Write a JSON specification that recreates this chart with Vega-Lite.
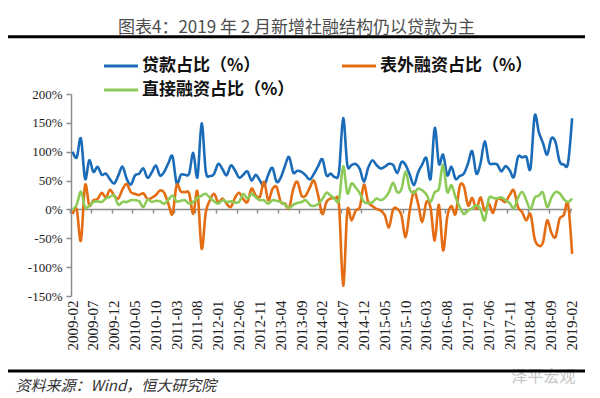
{
  "$schema": "https://vega.github.io/schema/vega-lite/v6.json",
  "width": 577,
  "height": 202,
  "autosize": {"type": "none"},
  "padding": {"left": 8, "top": 94, "right": 15, "bottom": 102},
  "background": "#ffffff",
  "config": {"view": {"stroke": null}, "font": "Noto Sans CJK SC", "axis": {"grid": false, "labelOverlap": false, "labelFlush": false, "labelBound": false}},
  "title": {"text": "图表4：2019 年 2 月新增社融结构仍以贷款为主", "anchor": "middle", "fontSize": 17, "font": "Noto Sans CJK SC", "fontWeight": "normal", "color": "#4d4d4d", "offset": -2},
  "data": {"values": [
    {"m":"2009-02","贷款占比（%）":100,"表外融资占比（%）":-8,"直接融资占比（%）":0},
    {"m":"2009-03","贷款占比（%）":90,"表外融资占比（%）":0,"直接融资占比（%）":8},
    {"m":"2009-04","贷款占比（%）":123,"表外融资占比（%）":-54,"直接融资占比（%）":31},
    {"m":"2009-05","贷款占比（%）":53,"表外融资占比（%）":42,"直接融资占比（%）":4},
    {"m":"2009-06","贷款占比（%）":85,"表外融资占比（%）":7,"直接融资占比（%）":6},
    {"m":"2009-07","贷款占比（%）":65,"表外融资占比（%）":16,"直接融资占比（%）":13},
    {"m":"2009-08","贷款占比（%）":74,"表外融资占比（%）":18,"直接融资占比（%）":14},
    {"m":"2009-09","贷款占比（%）":60,"表外融资占比（%）":29,"直接融资占比（%）":13},
    {"m":"2009-10","贷款占比（%）":62,"表外融资占比（%）":21,"直接融资占比（%）":19},
    {"m":"2009-11","贷款占比（%）":52,"表外融资占比（%）":34,"直接融资占比（%）":22},
    {"m":"2009-12","贷款占比（%）":45,"表外融资占比（%）":24,"直接融资占比（%）":24},
    {"m":"2010-01","贷款占比（%）":59,"表外融资占比（%）":19,"直接融资占比（%）":8},
    {"m":"2010-02","贷款占比（%）":74,"表外融资占比（%）":35,"直接融资占比（%）":13},
    {"m":"2010-03","贷款占比（%）":53,"表外融资占比（%）":44,"直接融资占比（%）":13},
    {"m":"2010-04","贷款占比（%）":43,"表外融资占比（%）":30,"直接融资占比（%）":16},
    {"m":"2010-05","贷款占比（%）":59,"表外融资占比（%）":27,"直接融资占比（%）":16},
    {"m":"2010-06","贷款占比（%）":62,"表外融资占比（%）":25,"直接融资占比（%）":14},
    {"m":"2010-07","贷款占比（%）":71,"表外融资占比（%）":28,"直接融资占比（%）":4},
    {"m":"2010-08","贷款占比（%）":55,"表外融资占比（%）":18,"直接融资占比（%）":17},
    {"m":"2010-09","贷款占比（%）":64,"表外融资占比（%）":20,"直接融资占比（%）":13},
    {"m":"2010-10","贷款占比（%）":76,"表外融资占比（%）":25,"直接融资占比（%）":15},
    {"m":"2010-11","贷款占比（%）":59,"表外融资占比（%）":33,"直接融资占比（%）":14},
    {"m":"2010-12","贷款占比（%）":65,"表外融资占比（%）":29,"直接融资占比（%）":10},
    {"m":"2011-01","贷款占比（%）":80,"表外融资占比（%）":10,"直接融资占比（%）":17},
    {"m":"2011-02","贷款占比（%）":92,"表外融资占比（%）":-8,"直接融资占比（%）":24},
    {"m":"2011-03","贷款占比（%）":45,"表外融资占比（%）":42,"直接融资占比（%）":14},
    {"m":"2011-04","贷款占比（%）":60,"表外融资占比（%）":31,"直接融资占比（%）":15},
    {"m":"2011-05","贷款占比（%）":60,"表外融资占比（%）":30,"直接融资占比（%）":16},
    {"m":"2011-06","贷款占比（%）":62,"表外融资占比（%）":28,"直接融资占比（%）":10},
    {"m":"2011-07","贷款占比（%）":98,"表外融资占比（%）":-8,"直接融资占比（%）":13},
    {"m":"2011-08","贷款占比（%）":56,"表外融资占比（%）":31,"直接融资占比（%）":20},
    {"m":"2011-09","贷款占比（%）":149,"表外融资占比（%）":-68,"直接融资占比（%）":24},
    {"m":"2011-10","贷款占比（%）":66,"表外融资占比（%）":-5,"直接融资占比（%）":27},
    {"m":"2011-11","贷款占比（%）":58,"表外融资占比（%）":16,"直接融资占比（%）":20},
    {"m":"2011-12","贷款占比（%）":62,"表外融资占比（%）":27,"直接融资占比（%）":14},
    {"m":"2012-01","贷款占比（%）":79,"表外融资占比（%）":12,"直接融资占比（%）":10},
    {"m":"2012-02","贷款占比（%）":70,"表外融资占比（%）":19,"直接融资占比（%）":16},
    {"m":"2012-03","贷款占比（%）":59,"表外融资占比（%）":10,"直接融资占比（%）":13},
    {"m":"2012-04","贷款占比（%）":76,"表外融资占比（%）":4,"直接融资占比（%）":14},
    {"m":"2012-05","贷款占比（%）":68,"表外融资占比（%）":20,"直接融资占比（%）":12},
    {"m":"2012-06","贷款占比（%）":55,"表外融资占比（%）":29,"直接融资占比（%）":13},
    {"m":"2012-07","贷款占比（%）":60,"表外融资占比（%）":18,"直接融资占比（%）":27},
    {"m":"2012-08","贷款占比（%）":66,"表外融资占比（%）":13,"直接融资占比（%）":19},
    {"m":"2012-09","贷款占比（%）":50,"表外融资占比（%）":36,"直接融资占比（%）":27},
    {"m":"2012-10","贷款占比（%）":60,"表外融资占比（%）":24,"直接融资占比（%）":21},
    {"m":"2012-11","贷款占比（%）":50,"表外融资占比（%）":22,"直接融资占比（%）":16},
    {"m":"2012-12","贷款占比（%）":41,"表外融资占比（%）":48,"直接融资占比（%）":16},
    {"m":"2013-01","贷款占比（%）":60,"表外融资占比（%）":16,"直接融资占比（%）":10},
    {"m":"2013-02","贷款占比（%）":72,"表外融资占比（%）":35,"直接融资占比（%）":16},
    {"m":"2013-03","贷款占比（%）":48,"表外融资占比（%）":39,"直接融资占比（%）":15},
    {"m":"2013-04","贷款占比（%）":55,"表外融资占比（%）":13,"直接融资占比（%）":13},
    {"m":"2013-05","贷款占比（%）":75,"表外融资占比（%）":10,"直接融资占比（%）":8},
    {"m":"2013-06","贷款占比（%）":91,"表外融资占比（%）":2,"直接融资占比（%）":2},
    {"m":"2013-07","贷款占比（%）":64,"表外融资占比（%）":35,"直接融资占比（%）":8},
    {"m":"2013-08","贷款占比（%）":67,"表外融资占比（%）":48,"直接融资占比（%）":11},
    {"m":"2013-09","贷款占比（%）":65,"表外融资占比（%）":24,"直接融资占比（%）":13},
    {"m":"2013-10","贷款占比（%）":59,"表外融资占比（%）":24,"直接融资占比（%）":16},
    {"m":"2013-11","贷款占比（%）":52,"表外融资占比（%）":38,"直接融资占比（%）":8},
    {"m":"2013-12","贷款占比（%）":62,"表外融资占比（%）":50,"直接融资占比（%）":6},
    {"m":"2014-01","贷款占比（%）":75,"表外融资占比（%）":24,"直接融资占比（%）":10},
    {"m":"2014-02","贷款占比（%）":87,"表外融资占比（%）":-8,"直接融资占比（%）":18},
    {"m":"2014-03","贷款占比（%）":59,"表外融资占比（%）":13,"直接融资占比（%）":29},
    {"m":"2014-04","贷款占比（%）":62,"表外融资占比（%）":19,"直接融资占比（%）":24},
    {"m":"2014-05","贷款占比（%）":56,"表外融资占比（%）":19,"直接融资占比（%）":18},
    {"m":"2014-06","贷款占比（%）":65,"表外融资占比（%）":7,"直接融资占比（%）":16},
    {"m":"2014-07","贷款占比（%）":158,"表外融资占比（%）":-132,"直接融资占比（%）":75},
    {"m":"2014-08","贷款占比（%）":77,"表外融资占比（%）":-3,"直接融资占比（%）":28},
    {"m":"2014-09","贷款占比（%）":77,"表外融资占比（%）":-19,"直接融资占比（%）":45},
    {"m":"2014-10","贷款占比（%）":79,"表外融资占比（%）":-2,"直接融资占比（%）":38},
    {"m":"2014-11","贷款占比（%）":70,"表外融资占比（%）":4,"直接融资占比（%）":28},
    {"m":"2014-12","贷款占比（%）":48,"表外融资占比（%）":43,"直接融资占比（%）":13},
    {"m":"2015-01","贷款占比（%）":72,"表外融资占比（%）":13,"直接融资占比（%）":11},
    {"m":"2015-02","贷款占比（%）":85,"表外融资占比（%）":6,"直接融资占比（%）":12},
    {"m":"2015-03","贷款占比（%）":77,"表外融资占比（%）":1,"直接融资占比（%）":19},
    {"m":"2015-04","贷款占比（%）":71,"表外融资占比（%）":-2,"直接融资占比（%）":16},
    {"m":"2015-05","贷款占比（%）":74,"表外融资占比（%）":-10,"直接融资占比（%）":20},
    {"m":"2015-06","贷款占比（%）":79,"表外融资占比（%）":-31,"直接融资占比（%）":30},
    {"m":"2015-07","贷款占比（%）":77,"表外融资占比（%）":0,"直接融资占比（%）":46},
    {"m":"2015-08","贷款占比（%）":63,"表外融资占比（%）":1,"直接融资占比（%）":30},
    {"m":"2015-09","贷款占比（%）":82,"表外融资占比（%）":-10,"直接融资占比（%）":35},
    {"m":"2015-10","贷款占比（%）":77,"表外融资占比（%）":-48,"直接融资占比（%）":66},
    {"m":"2015-11","贷款占比（%）":60,"表外融资占比（%）":-2,"直接融资占比（%）":35},
    {"m":"2015-12","贷款占比（%）":42,"表外融资占比（%）":31,"直接融资占比（%）":29},
    {"m":"2016-01","贷款占比（%）":64,"表外融资占比（%）":10,"直接融资占比（%）":36},
    {"m":"2016-02","贷款占比（%）":78,"表外融资占比（%）":-22,"直接融资占比（%）":33},
    {"m":"2016-03","贷款占比（%）":89,"表外融资占比（%）":13,"直接融资占比（%）":26},
    {"m":"2016-04","贷款占比（%）":53,"表外融资占比（%）":3,"直接融资占比（%）":13},
    {"m":"2016-05","贷款占比（%）":141,"表外融资占比（%）":-54,"直接融资占比（%）":30},
    {"m":"2016-06","贷款占比（%）":79,"表外融资占比（%）":8,"直接融资占比（%）":36},
    {"m":"2016-07","贷款占比（%）":95,"表外融资占比（%）":-71,"直接融资占比（%）":77},
    {"m":"2016-08","贷款占比（%）":59,"表外融资占比（%）":-13,"直接融资占比（%）":30},
    {"m":"2016-09","贷款占比（%）":74,"表外融资占比（%）":6,"直接融资占比（%）":42},
    {"m":"2016-10","贷款占比（%）":53,"表外融资占比（%）":-8,"直接融资占比（%）":21},
    {"m":"2016-11","贷款占比（%）":58,"表外融资占比（%）":40,"直接融资占比（%）":4},
    {"m":"2016-12","贷款占比（%）":62,"表外融资占比（%）":40,"直接融资占比（%）":-8},
    {"m":"2017-01","贷款占比（%）":80,"表外融资占比（%）":7,"直接融资占比（%）":-2},
    {"m":"2017-02","贷款占比（%）":101,"表外融资占比（%）":20,"直接融资占比（%）":2},
    {"m":"2017-03","贷款占比（%）":62,"表外融资占比（%）":1,"直接融资占比（%）":7},
    {"m":"2017-04","贷款占比（%）":80,"表外融资占比（%）":21,"直接融资占比（%）":0},
    {"m":"2017-05","贷款占比（%）":118,"表外融资占比（%）":-2,"直接融资占比（%）":-19},
    {"m":"2017-06","贷款占比（%）":82,"表外融资占比（%）":10,"直接融资占比（%）":19},
    {"m":"2017-07","贷款占比（%）":79,"表外融资占比（%）":-6,"直接融资占比（%）":20},
    {"m":"2017-08","贷款占比（%）":78,"表外融资占比（%）":18,"直接融资占比（%）":19},
    {"m":"2017-09","贷款占比（%）":66,"表外融资占比（%）":17,"直接融资占比（%）":21},
    {"m":"2017-10","贷款占比（%）":75,"表外融资占比（%）":13,"直接融资占比（%）":16},
    {"m":"2017-11","贷款占比（%）":68,"表外融资占比（%）":25,"直接融资占比（%）":11},
    {"m":"2017-12","贷款占比（%）":56,"表外融资占比（%）":33,"直接融资占比（%）":2},
    {"m":"2018-01","贷款占比（%）":91,"表外融资占比（%）":4,"直接融资占比（%）":20},
    {"m":"2018-02","贷款占比（%）":90,"表外融资占比（%）":-5,"直接融资占比（%）":30},
    {"m":"2018-03","贷款占比（%）":91,"表外融资占比（%）":-19,"直接融资占比（%）":16},
    {"m":"2018-04","贷款占比（%）":71,"表外融资占比（%）":-8,"直接融资占比（%）":0},
    {"m":"2018-05","贷款占比（%）":162,"表外融资占比（%）":-51,"直接融资占比（%）":20},
    {"m":"2018-06","贷款占比（%）":134,"表外融资占比（%）":-63,"直接融资占比（%）":24},
    {"m":"2018-07","贷款占比（%）":115,"表外融资占比（%）":-57,"直接融资占比（%）":29},
    {"m":"2018-08","贷款占比（%）":95,"表外融资占比（%）":-19,"直接融资占比（%）":4},
    {"m":"2018-09","贷款占比（%）":123,"表外融资占比（%）":-40,"直接融资占比（%）":20},
    {"m":"2018-10","贷款占比（%）":117,"表外融资占比（%）":-48,"直接融资占比（%）":30},
    {"m":"2018-11","贷款占比（%）":83,"表外融资占比（%）":-16,"直接融资占比（%）":28},
    {"m":"2018-12","贷款占比（%）":78,"表外融资占比（%）":-10,"直接融资占比（%）":18},
    {"m":"2019-01","贷款占比（%）":80,"表外融资占比（%）":10,"直接融资占比（%）":13},
    {"m":"2019-02","贷款占比（%）":158,"表外融资占比（%）":-77,"直接融资占比（%）":19}
  ]},
  "layer": [
    {
      "data": {"values": [{}]},
      "mark": {"type": "rule", "color": "#8c8c8c", "strokeWidth": 1.5},
      "encoding": {
        "x": {"datum": "2009-02", "type": "ordinal", "axis": null},
        "x2": {"datum": "2019-02"},
        "y": {"datum": 0, "type": "quantitative", "scale": {"domain": [-150, 200], "nice": false}, "axis": null}
      }
    },
    {
      "transform": [{"fold": ["贷款占比（%）", "表外融资占比（%）", "直接融资占比（%）"], "as": ["s", "v"]}],
      "mark": {"type": "line", "strokeWidth": 2.6, "interpolate": "cardinal"},
      "encoding": {
        "x": {
          "field": "m", "type": "ordinal",
          "scale": {"type": "band", "paddingInner": 0, "paddingOuter": 0, "range": [62.5, 566.2]},
          "axis": {
            "orient": "bottom",
            "values": ["2009-02","2009-07","2009-12","2010-05","2010-10","2011-03","2011-08","2012-01","2012-06","2012-11","2013-04","2013-09","2014-02","2014-07","2014-12","2015-05","2015-10","2016-03","2016-08","2017-01","2017-06","2017-11","2018-04","2018-09","2019-02"],
            "labelAngle": -90, "labelAlign": "right", "labelBaseline": "middle",
            "labelFont": "Liberation Serif", "labelFontSize": 15, "labelColor": "#222",
            "labelPadding": 4, "ticks": false, "tickSize": 0, "domain": false, "labelOverlap": false,
            "title": "资料来源：Wind，恒大研究院", "titleAnchor": "start", "titleAlign": "left",
            "titleX": 7, "titleY": 89, "titleBaseline": "middle", "titleFont": "Noto Sans CJK SC",
            "titleFontSize": 15, "titleFontStyle": "italic", "titleFontWeight": "normal", "titleColor": "#333"
          }
        },
        "y": {
          "field": "v", "type": "quantitative",
          "scale": {"domain": [-150, 200], "nice": false},
          "axis": {
            "orient": "left", "offset": -63, "values": [-150, -100, -50, 0, 50, 100, 150, 200],
            "labelExpr": "datum.value + '%'", "title": null, "labelOverlap": false, "labelFlush": false,
            "domainColor": "#8c8c8c", "domainWidth": 1.5, "tickColor": "#8c8c8c", "tickSize": 5, "tickWidth": 1.5,
            "labelFont": "Liberation Serif", "labelFontSize": 13, "labelColor": "#222", "labelPadding": 4
          }
        },
        "color": {
          "field": "s", "type": "nominal",
          "scale": {"domain": ["贷款占比（%）", "表外融资占比（%）", "直接融资占比（%）"], "range": ["#1b6cb8", "#e46c12", "#8dcb58"]},
          "legend": {
            "orient": "none", "legendX": 103, "legendY": -38, "columns": 2, "direction": "horizontal", "title": null,
            "symbolType": "M-2,0H2", "symbolSize": 289, "symbolStrokeWidth": 3,
            "labelFont": "Noto Sans CJK SC", "labelFontSize": 17, "labelFontWeight": "bold", "labelColor": "#111",
            "labelOffset": 11, "labelLimit": 400, "columnPadding": 41, "rowPadding": 6, "padding": 0
          }
        }
      }
    },
    {
      "transform": [{"fold": ["贷款占比（%）", "表外融资占比（%）", "直接融资占比（%）"], "as": ["s", "v"]}],
      "mark": {"type": "point", "opacity": 0},
      "encoding": {
        "x": {
          "field": "m", "type": "ordinal",
          "scale": {"type": "band", "paddingInner": 0, "paddingOuter": 0, "range": [62.5, 566.2]},
          "axis": {
            "orient": "bottom", "offset": -87, "bandPosition": 0,
            "values": ["2009-02","2009-07","2009-12","2010-05","2010-10","2011-03","2011-08","2012-01","2012-06","2012-11","2013-04","2013-09","2014-02","2014-07","2014-12","2015-05","2015-10","2016-03","2016-08","2017-01","2017-06","2017-11","2018-04","2018-09","2019-02"],
            "labels": false, "domain": false, "ticks": true, "tickSize": 4, "tickColor": "#8c8c8c", "tickWidth": 1.5,
            "title": "泽平宏观", "titleX": 503, "titleY": 167, "titleAlign": "left", "titleBaseline": "middle",
            "titleFont": "Noto Sans CJK SC", "titleFontSize": 16, "titleFontWeight": "normal", "titleColor": "#c4c4c4"
          }
        },
        "y": {"field": "v", "type": "quantitative", "scale": {"domain": [-150, 200], "nice": false}, "axis": null}
      }
    },
    {
      "data": {"values": [{}]},
      "mark": {"type": "rule", "color": "#000000", "strokeWidth": 3},
      "encoding": {"y": {"datum": 299, "type": "quantitative", "scale": {"domain": [-150, 200], "nice": false}, "axis": null}}
    },
    {
      "data": {"values": [{}]},
      "mark": {"type": "rule", "color": "#000000", "strokeWidth": 3},
      "encoding": {"y": {"datum": -280, "type": "quantitative", "scale": {"domain": [-150, 200], "nice": false}, "axis": null}}
    }
  ],
  "resolve": {"axis": {"x": "independent", "y": "independent"}}
}
